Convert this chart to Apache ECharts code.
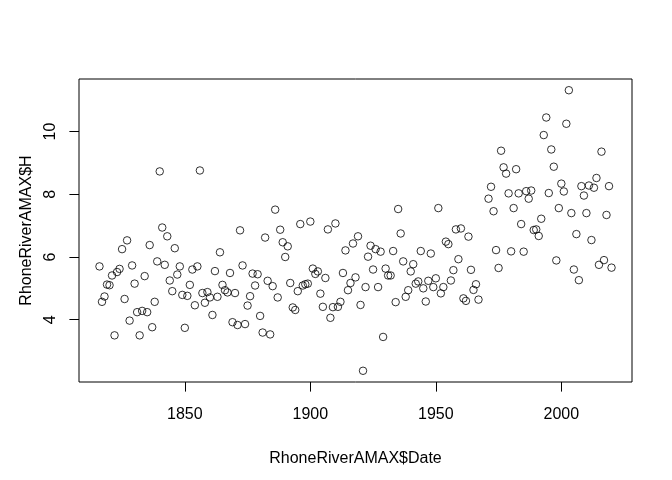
<!DOCTYPE html>
<html>
<head>
<meta charset="utf-8">
<title>RhoneRiverAMAX</title>
<script src="https://cdn.jsdelivr.net/npm/echarts@6/dist/echarts.min.js"></script>
<style>
  html, body { margin: 0; padding: 0; background: #fff; }
  #chart { width: 672px; height: 480px; }
</style>
</head>
<body>
<div id="chart"></div>
<script>
'use strict';

// annual maxima (gap 1968-1970)
const years1800s = [
  1816, 1817, 1818, 1819, 1820, 1821, 1822, 1823, 1824, 1825,
  1826, 1827, 1828, 1829, 1830, 1831, 1832, 1833, 1834, 1835,
  1836, 1837, 1838, 1839, 1840, 1841, 1842, 1843, 1844, 1845,
  1846, 1847, 1848, 1849, 1850, 1851, 1852, 1853, 1854, 1855,
  1856, 1857, 1858, 1859, 1860, 1861, 1862, 1863, 1864, 1865,
  1866, 1867, 1868, 1869, 1870, 1871, 1872, 1873, 1874, 1875,
  1876, 1877, 1878, 1879, 1880, 1881, 1882, 1883, 1884, 1885,
  1886, 1887, 1888, 1889, 1890, 1891, 1892, 1893, 1894, 1895,
  1896, 1897, 1898, 1899
];
const height1800s = [
  5.70, 4.57, 4.74, 5.12, 5.10, 5.41, 3.50, 5.52, 5.62, 6.25,
  4.66, 6.53, 3.97, 5.73, 5.15, 4.24, 3.50, 4.28, 5.39, 4.24,
  6.38, 3.76, 4.57, 5.86, 8.73, 6.94, 5.75, 6.66, 5.25, 4.91,
  6.28, 5.44, 5.70, 4.79, 3.74, 4.76, 5.11, 5.60, 4.46, 5.70,
  8.76, 4.85, 4.54, 4.88, 4.71, 4.15, 5.55, 4.73, 6.15, 5.11,
  4.94, 4.87, 5.49, 3.92, 4.85, 3.83, 6.85, 5.73, 3.86, 4.45,
  4.75, 5.47, 5.09, 5.45, 4.12, 3.59, 6.62, 5.24, 3.53, 5.07,
  7.51, 4.71, 6.87, 6.47, 6.00, 6.34, 5.17, 4.39, 4.31, 4.91,
  7.05, 5.09, 5.13, 5.15
];

const years1900s = [
  1900, 1901, 1902, 1903, 1904, 1905, 1906, 1907, 1908, 1909,
  1910, 1911, 1912, 1913, 1914, 1915, 1916, 1917, 1918, 1919,
  1920, 1921, 1922, 1923, 1924, 1925, 1926, 1927, 1928, 1929,
  1930, 1931, 1932, 1933, 1934, 1935, 1936, 1937, 1938, 1939,
  1940, 1941, 1942, 1943, 1944, 1945, 1946, 1947, 1948, 1949,
  1950, 1951, 1952, 1953, 1954, 1955, 1956, 1957, 1958, 1959,
  1960, 1961, 1962, 1963, 1964, 1965, 1966, 1967,
  1971, 1972, 1973, 1974, 1975, 1976, 1977, 1978, 1979,
  1980, 1981, 1982, 1983, 1984, 1985, 1986, 1987, 1988, 1989,
  1990, 1991, 1992, 1993, 1994, 1995, 1996, 1997, 1998, 1999
];
const height1900s = [
  7.13, 5.63, 5.46, 5.54, 4.83, 4.41, 5.33, 6.88, 4.06, 4.40,
  7.07, 4.41, 4.57, 5.49, 6.21, 4.94, 5.17, 6.43, 5.35, 6.66,
  4.47, 2.37, 5.04, 6.01, 6.36, 5.60, 6.25, 5.04, 6.17, 3.45,
  5.63, 5.41, 5.41, 6.19, 4.56, 7.53, 6.75, 5.86, 4.73, 4.94,
  5.54, 5.77, 5.15, 5.22, 6.19, 5.00, 4.58, 5.24, 6.11, 5.04,
  5.32, 7.56, 4.84, 5.04, 6.49, 6.41, 5.25, 5.58, 6.88, 5.93,
  6.91, 4.68, 4.60, 6.65, 5.59, 4.95, 5.13, 4.64,
  7.86, 8.24, 7.46, 6.22, 5.65, 9.39, 8.86, 8.66, 8.03,
  6.18, 7.56, 8.80, 8.03, 7.05, 6.17, 8.10, 7.86, 8.12, 6.86,
  6.88, 6.67, 7.22, 9.89, 10.45, 8.04, 9.43, 8.88, 5.89, 7.56
];

const years2000s = [
  2000, 2001, 2002, 2003, 2004, 2005, 2006, 2007, 2008, 2009,
  2010, 2011, 2012, 2013, 2014, 2015, 2016, 2017, 2018, 2019,
  2020
];
const height2000s = [
  8.34, 8.09, 10.25, 11.32, 7.40, 5.60, 6.73, 5.26, 8.26, 7.96,
  7.40, 8.28, 6.54, 8.21, 8.52, 5.75, 9.36, 5.90, 7.34, 8.26,
  5.66
];

const xTicks = [1850, 1900, 1950, 2000];
const yTicks = [4, 6, 8, 10];

const xTitle = 'RhoneRiverAMAX$Date';
const yTitle = 'RhoneRiverAMAX$H';

// like R's default axis: data range padded by 4% each side
function paddedRange(values) {
  const lo = Math.min(...values);
  const hi = Math.max(...values);
  const pad = (hi - lo) * 0.04;
  return [lo - pad, hi + pad];
}

const years = years1800s.concat(years1900s, years2000s);
const heights = height1800s.concat(height1900s, height2000s);
const points = years.map((y, i) => [y, heights[i]]);

const xRange = paddedRange(years);
const yRange = paddedRange(heights);

const font = "'Liberation Sans', Arial, Helvetica, sans-serif";
const ink = '#000';
// plain numbers, no thousands separator
const plain = v => String(v);

const chart = echarts.init(document.getElementById('chart'), null, { renderer: 'canvas' });
chart.setOption({
  animation: false,
  backgroundColor: '#fff',
  grid: {
    left: 79, right: 40, top: 79, bottom: 98,
    show: true, borderColor: ink, borderWidth: 1,
    backgroundColor: 'transparent'
  },
  xAxis: {
    type: 'value',
    min: xRange[0],
    max: xRange[1],
    axisLine: { show: false },
    axisTick: { show: true, length: 9.6, customValues: xTicks, lineStyle: { color: ink, width: 1 } },
    axisLabel: { customValues: xTicks, formatter: plain, margin: 25, fontSize: 16, color: ink, fontFamily: font },
    splitLine: { show: false },
    name: xTitle,
    nameLocation: 'middle',
    nameGap: 69,
    nameTextStyle: { fontSize: 16, color: ink, fontFamily: font }
  },
  yAxis: {
    type: 'value',
    min: yRange[0],
    max: yRange[1],
    axisLine: { show: false },
    axisTick: { show: true, length: 9.6, customValues: yTicks, lineStyle: { color: ink, width: 1 } },
    axisLabel: { customValues: yTicks, formatter: plain, margin: 20, rotate: 90, fontSize: 16, color: ink, fontFamily: font },
    splitLine: { show: false },
    name: yTitle,
    nameLocation: 'middle',
    nameRotate: 90,
    nameGap: 44,
    nameTextStyle: { fontSize: 16, color: ink, fontFamily: font }
  },
  series: [{
    type: 'scatter',
    data: points,
    symbol: 'circle',
    symbolSize: 7.5,
    silent: true,
    itemStyle: { color: 'rgba(0,0,0,0)', borderColor: ink, borderWidth: 1 }
  }]
});
</script>
</body>
</html>
